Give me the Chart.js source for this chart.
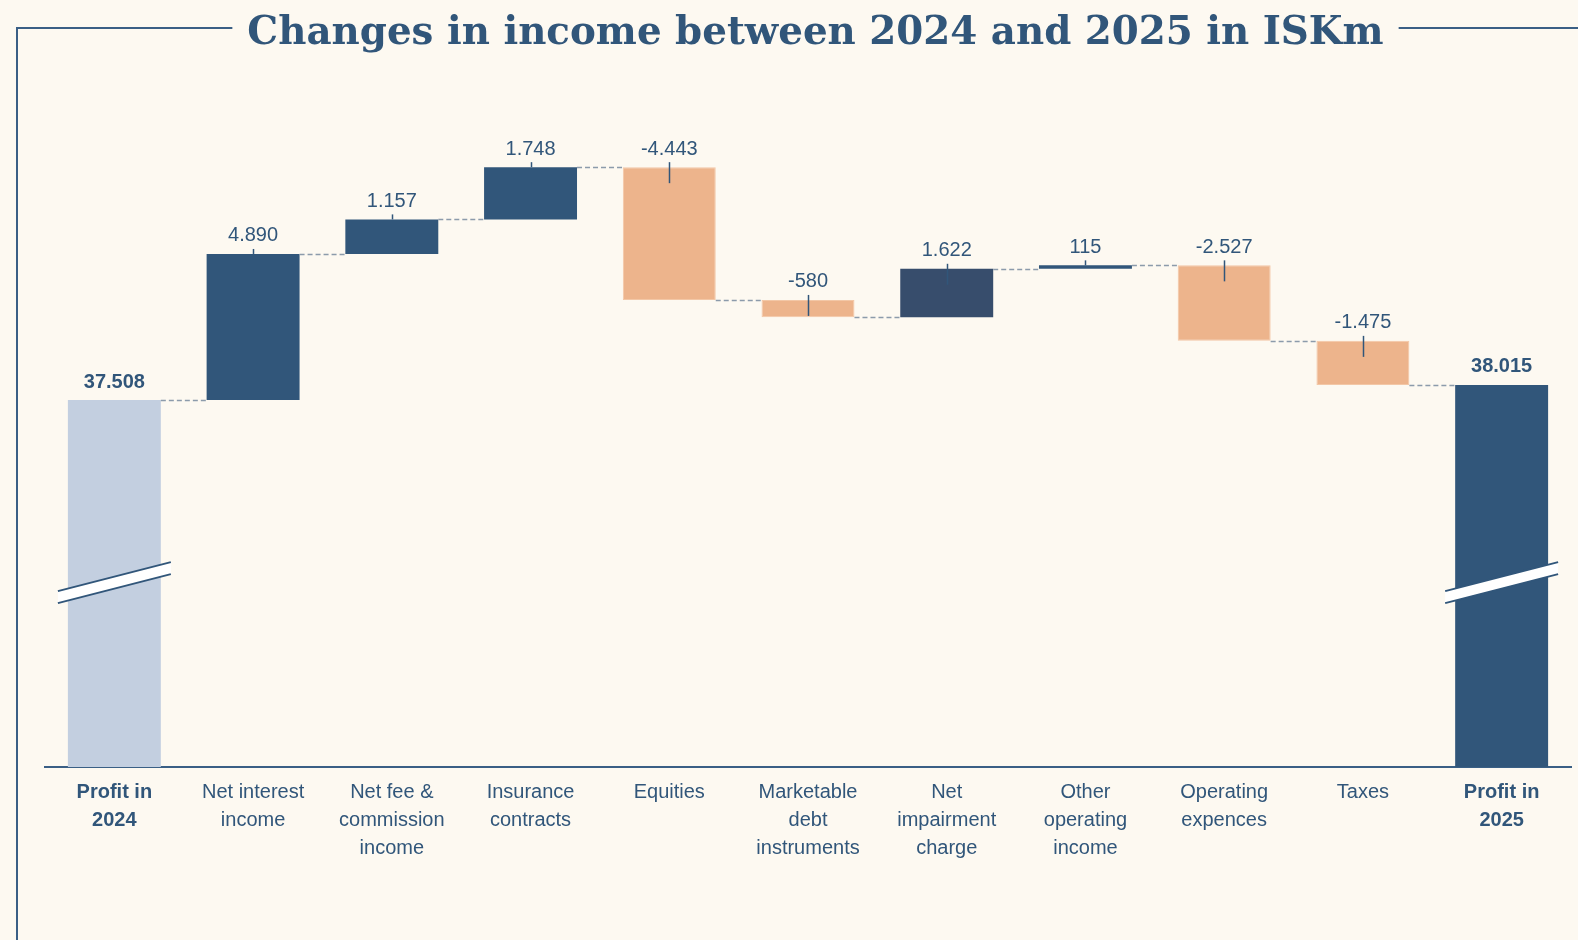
<!DOCTYPE html>
<html>
<head>
<meta charset="utf-8">
<title>Changes in income between 2024 and 2025 in ISKm</title>
<script src="https://cdn.jsdelivr.net/npm/chart.js@4.4.1/dist/chart.umd.min.js"></script>
<style>
  html, body { margin: 0; padding: 0; background: #fdf9f1; overflow: hidden; }
  #wrap { position: relative; width: 1578px; height: 940px; }
</style>
</head>
<body>
<div id="wrap"><canvas id="waterfall"></canvas></div>
<script>
// --- DATA ---
const categories = [
    ['Profit in', '2024'],
    ['Net interest', 'income'],
    ['Net fee &', 'commission', 'income'],
    ['Insurance', 'contracts'],
    ['Equities'],
    ['Marketable', 'debt', 'instruments'],
    ['Net', 'impairment', 'charge'],
    ['Other', 'operating', 'income'],
    ['Operating', 'expences'],
    ['Taxes'],
    ['Profit in', '2025']
];
const startValue = 37508;
const changes = [4890, 1157, 1748, -4443, -580, 1622, 115, -2527, -1475];
const endValue = 38015;
const titleText = 'Changes in income between 2024 and 2025 in ISKm';

// broken axis: the totals are cut, the floor sits well above zero
const Y_MIN = 25230;
const Y_MAX = 48320;
const BREAK_AT = 31400;

// --- COLOURS ---
const DARK = '#31567a';
const LIGHT = '#c3cfe0';
const ORANGE = '#edb48c';
const IMPAIRMENT = '#374d6c';
const TEXT = '#31567a';
const FRAME = '#3a5f85';

// build floating ranges
const ranges = [[Y_MIN, startValue]];
let running = startValue;
changes.forEach(c => {
    ranges.push([running, running + c]);
    running += c;
});
ranges.push([Y_MIN, endValue]);
const shownValues = [startValue, ...changes, endValue];
const lastIdx = categories.length - 1;

function fmt(n) {
    const s = Math.abs(n).toString().replace(/\B(?=(\d{3})+(?!\d))/g, '.');
    return (n < 0 ? '-' : '') + s;
}

function barColor(i) {
    if (i === 0) return LIGHT;
    if (i === lastIdx) return DARK;
    if (categories[i][1] === 'impairment') return IMPAIRMENT;
    return shownValues[i] < 0 ? ORANGE : DARK;
}

// --- PLUGIN: connectors, ticks, value labels, breaks, title + frame ---
const waterfallDecor = {
    id: 'waterfallDecor',
    afterDatasetsDraw(chart) {
        const { ctx } = chart;
        const y = chart.scales.y;
        const bars = chart.getDatasetMeta(0).data;

        // dashed connectors
        ctx.save();
        ctx.strokeStyle = '#8c9bab';
        ctx.lineWidth = 1.5;
        ctx.setLineDash([5, 3]);
        for (let i = 0; i < bars.length - 1; i++) {
            const level = ranges[i][1];
            const py = Math.round(y.getPixelForValue(level)) + 0.5;
            const a = bars[i], b = bars[i + 1];
            ctx.beginPath();
            ctx.moveTo(a.x + a.width / 2, py);
            ctx.lineTo(b.x - b.width / 2, py);
            ctx.stroke();
        }
        ctx.restore();

        // small ticks on the change bars
        ctx.save();
        ctx.strokeStyle = TEXT;
        ctx.lineWidth = 1.5;
        for (let i = 1; i < lastIdx; i++) {
            const top = y.getPixelForValue(Math.max(ranges[i][0], ranges[i][1]));
            const down = shownValues[i] < 0 || categories[i][1] === 'impairment';
            const x = Math.round(bars[i].x) + 0.5;
            ctx.beginPath();
            ctx.moveTo(x, top - 5);
            ctx.lineTo(x, down ? top + 16 : top);
            ctx.stroke();
        }
        ctx.restore();

        // value labels
        ctx.save();
        ctx.fillStyle = TEXT;
        ctx.textAlign = 'center';
        ctx.textBaseline = 'middle';
        bars.forEach((bar, i) => {
            const top = y.getPixelForValue(Math.max(ranges[i][0], ranges[i][1]));
            const total = i === 0 || i === lastIdx;
            ctx.font = (total ? 'bold ' : '') + '20px "Liberation Sans", Arial, sans-serif';
            ctx.fillText(fmt(shownValues[i]), bar.x, top - 18);
        });
        ctx.restore();

        // axis break marks on the two totals
        [0, lastIdx].forEach(i => {
            const bar = bars[i];
            const cy = y.getPixelForValue(BREAK_AT);
            const x1 = bar.x - bar.width / 2 - 10;
            const x2 = bar.x + bar.width / 2 + 10;
            const rise = 29 / 2;
            const gap = 12;
            ctx.save();
            ctx.beginPath();
            ctx.moveTo(x1, cy + rise - gap / 2);
            ctx.lineTo(x2, cy - rise - gap / 2);
            ctx.lineTo(x2, cy - rise + gap / 2);
            ctx.lineTo(x1, cy + rise + gap / 2);
            ctx.closePath();
            ctx.fillStyle = '#ffffff';
            ctx.fill();
            ctx.strokeStyle = TEXT;
            ctx.lineWidth = 2;
            ctx.beginPath();
            ctx.moveTo(x1, cy + rise - gap / 2);
            ctx.lineTo(x2, cy - rise - gap / 2);
            ctx.moveTo(x1, cy + rise + gap / 2);
            ctx.lineTo(x2, cy - rise + gap / 2);
            ctx.stroke();
            ctx.restore();
        });
    },
    afterDraw(chart) {
        const { ctx } = chart;
        ctx.save();
        // title, fitted to the width of the original heading
        const want = 1135;
        ctx.font = 'bold 44px "DejaVu Serif", Georgia, serif';
        let size = 44 * want / ctx.measureText(titleText).width;
        size = Math.min(size, 46);
        ctx.font = 'bold ' + size.toFixed(1) + 'px "DejaVu Serif", Georgia, serif';
        const w = ctx.measureText(titleText).width;
        const cx = 815.5;
        ctx.fillStyle = TEXT;
        ctx.textAlign = 'center';
        ctx.textBaseline = 'alphabetic';
        ctx.fillText(titleText, cx, 44);

        // frame
        ctx.strokeStyle = FRAME;
        ctx.lineWidth = 2;
        ctx.beginPath();
        ctx.moveTo(17, 940);
        ctx.lineTo(17, 28);
        ctx.lineTo(cx - w / 2 - 15, 28);
        ctx.moveTo(cx + w / 2 + 15, 28);
        ctx.lineTo(1578, 28);
        ctx.stroke();
        ctx.restore();
    }
};

new Chart(document.getElementById('waterfall'), {
    type: 'bar',
    data: {
        labels: categories,
        datasets: [{
            data: ranges,
            backgroundColor: categories.map((_, i) => barColor(i)),
            borderColor: categories.map((_, i) => barColor(i) === ORANGE ? '#f3c7a6' : barColor(i)),
            borderWidth: categories.map((_, i) => barColor(i) === ORANGE ? 1 : 0),
            borderSkipped: false,
            barPercentage: 0.67,
            categoryPercentage: 1
        }]
    },
    options: {
        responsive: true,
        maintainAspectRatio: false,
        animation: false,
        layout: { padding: { top: 77, left: 45, right: 7, bottom: 67 } },
        plugins: {
            legend: { display: false },
            tooltip: { enabled: false }
        },
        scales: {
            x: {
                grid: { display: false, drawTicks: false },
                border: { display: true, color: FRAME, width: 2 },
                ticks: {
                    color: TEXT,
                    padding: 11,
                    maxRotation: 0,
                    autoSkip: false,
                    font: ctx => ({
                        family: '"Liberation Sans", Arial, sans-serif',
                        size: 20,
                        lineHeight: 1.4,
                        weight: (ctx.index === 0 || ctx.index === lastIdx) ? 'bold' : 'normal'
                    })
                }
            },
            y: {
                display: false,
                min: Y_MIN,
                max: Y_MAX
            }
        }
    },
    plugins: [waterfallDecor]
});
</script>
</body>
</html>
